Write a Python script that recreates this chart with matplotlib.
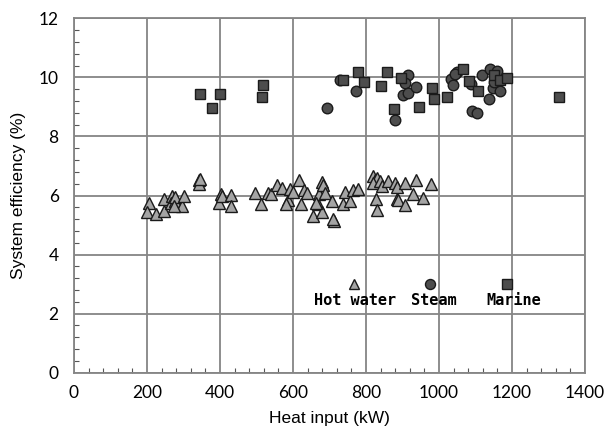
import matplotlib
matplotlib.use("Agg")
import matplotlib.pyplot as plt
from matplotlib.ticker import MultipleLocator

# Hot water (triangles)
hw_x = [206, 201, 225, 247, 246, 268, 265, 276, 278, 297, 302, 273,
        342, 342, 345, 403, 398, 405, 431, 430,
        496, 513, 532, 540, 556, 570, 585, 582, 592, 599, 617, 623, 630, 638,
        655, 668, 671, 679, 681, 687, 679, 708, 712, 736, 743, 755, 764, 778,
        820, 825, 829, 818, 839, 843, 859, 880, 884, 907, 938, 979,
        827, 831, 884, 888, 907, 928, 957, 664, 710]
hw_y = [5.75, 5.44, 5.38, 5.89, 5.49, 5.97, 5.75, 5.83, 5.94, 5.64, 5.98, 5.66,
        6.51, 6.39, 6.56, 6.06, 5.74, 6.00, 6.03, 5.63,
        6.08, 5.70, 6.08, 6.06, 6.34, 6.25, 5.85, 5.72, 6.23, 6.11, 6.53, 5.72, 6.19, 6.08,
        5.30, 5.72, 6.06, 6.45, 6.34, 6.08, 5.44, 5.83, 5.15, 5.72, 6.11, 5.83, 6.17, 6.23,
        6.65, 6.54, 6.59, 6.43, 6.49, 6.32, 6.49, 6.43, 6.29, 6.43, 6.54, 6.38,
        5.89, 5.51, 5.89, 5.86, 5.68, 6.05, 5.92, 5.73, 5.19]

# Steam (circles)
st_x = [693, 729, 772, 914, 906, 901, 916, 938, 880,
        1034, 1038, 1050, 1044, 1091, 1103, 1117, 1141, 1158, 1149, 1168, 1136, 1088, 1150]
st_y = [8.97, 9.90, 9.55, 10.09, 9.80, 9.40, 9.47, 9.68, 8.57,
        9.95, 9.74, 10.19, 10.10, 8.85, 8.81, 10.09, 10.28, 10.23, 9.63, 9.55, 9.27, 9.78, 9.85]

# Marine (squares)
ma_x = [344, 400, 378, 517, 514, 736, 777, 794, 842, 857, 896, 878, 944,
        981, 986, 1021, 1066, 1083, 1108, 1150, 1168, 1185, 1328]
ma_y = [9.44, 9.44, 8.97, 9.73, 9.32, 9.90, 10.17, 9.83, 9.70, 10.17, 9.98, 8.93, 9.00,
        9.63, 9.26, 9.32, 10.30, 9.88, 9.55, 10.09, 9.91, 9.97, 9.32]

legend_names = ["Hot water", "Steam", "Marine"]
legend_x = [766, 975, 1186]
legend_text_x = [771, 985, 1205]

plt.rcParams['font.family'] = ['Liberation Sans', 'DejaVu Sans']

fig = plt.figure(figsize=(6.08, 4.36), dpi=100)
ax = fig.add_axes([0.1217, 0.1452, 0.8405, 0.8128])

dark = '#4d4d4d'
light = '#a4a4a4'
edge = '#1a1a1a'
ms = 7.2
ax.plot(hw_x, hw_y, ls='none', marker='^', ms=ms + 0.8, mfc=light, mec=edge, mew=1.0, zorder=3)
ax.plot(st_x, st_y, ls='none', marker='o', ms=ms + 0.4, mfc=dark, mec=edge, mew=1.0, zorder=3)
ax.plot(ma_x, ma_y, ls='none', marker='s', ms=ms, mfc=dark, mec=edge, mew=1.0, zorder=4)

# in-plot legend
styles = [('^', light, ms), ('o', dark, ms), ('s', dark, ms - 0.4)]
for (m, c, s), lx, tx, name in zip(styles, legend_x, legend_text_x, legend_names):
    ax.plot([lx], [3.0], ls='none', marker=m, ms=s, mfc=c, mec=edge, mew=1.0, zorder=5)
    ax.text(tx, 2.43, name, ha='center', va='center', fontsize=11,
            family='DejaVu Sans Mono', fontweight='bold', zorder=5)

ax.set_xlim(0, 1400)
ax.set_ylim(0, 12)
ax.xaxis.set_major_locator(MultipleLocator(200))
ax.xaxis.set_minor_locator(MultipleLocator(40))
ax.yaxis.set_major_locator(MultipleLocator(2))
ax.yaxis.set_minor_locator(MultipleLocator(0.4))
ax.grid(True, which='major', color='#858585', lw=1.3, zorder=0)
ax.set_axisbelow(True)
for sp in ax.spines.values():
    sp.set_color('#858585')
    sp.set_linewidth(1.3)
ax.tick_params(which='major', direction='in', length=0, labelsize=12.5)
ax.tick_params(axis='x', which='major', pad=9)
ax.tick_params(axis='y', which='major', pad=11)
for lab in ax.get_xticklabels() + ax.get_yticklabels():
    lab.set_family(['Lato', 'DejaVu Sans'])
ax.tick_params(which='minor', direction='in', length=3.8, color='#555555', width=0.8)

ax.set_xlabel('Heat input (kW)', fontsize=12.5, labelpad=7)
ax.set_ylabel('System efficiency (%)', fontsize=12.5, labelpad=9)

fig.savefig('out.png', dpi=100)
